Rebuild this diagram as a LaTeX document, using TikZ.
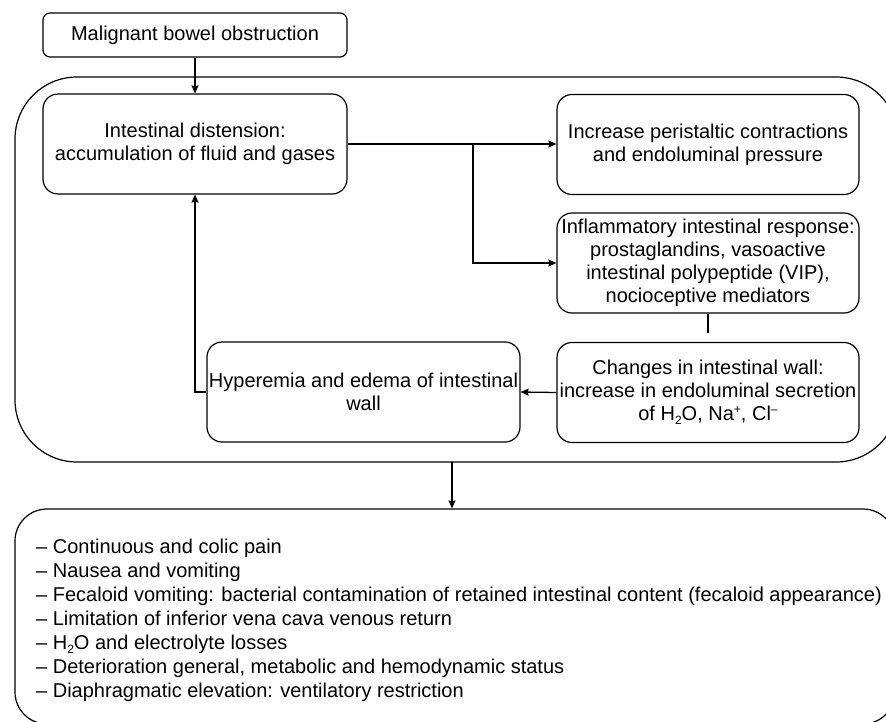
\documentclass[tikz,border=0pt]{standalone}
\usepackage{fontspec}
\setmainfont{Liberation Sans}
\usetikzlibrary{arrows.meta}
\newcommand{\mysub}[1]{\raisebox{-0.4ex}{\fontsize{12}{12}\selectfont #1}}
\newcommand{\mysup}[1]{\raisebox{0.7ex}{\fontsize{12}{12}\selectfont #1}}
\begin{document}
\begin{tikzpicture}[x=1pt,y=-1pt,
  box/.style={draw=black, line width=1.2pt, rounded corners=15pt, inner sep=0pt, align=center,
    minimum width=302pt, minimum height=100pt, font=\fontsize{20}{23}\selectfont},
  arr/.style={line width=1.3pt, -{Stealth[length=8pt,width=7pt,inset=1pt]}},
  conn/.style={line width=1.3pt}]
\useasboundingbox (0,0) rectangle (886,721);
% containers
\node[box, minimum width=883pt, minimum height=385pt, rounded corners=62pt] (big) at (456.5,269.5) {};
\node[box, minimum width=880pt, minimum height=215pt, rounded corners=32pt] (res) at (455,616.5) {};
% boxes
\node[box, minimum width=304pt, minimum height=44pt, rounded corners=7pt] (mal) at (195,35) {Malignant bowel obstruction};
\node[box, minimum width=304pt] (dist) at (195,144) {Intestinal distension:\\accumulation of fluid and gases};
\node[box] (incr) at (708,144.5) {Increase peristaltic contractions\\and endoluminal pressure};
\node[box] (infl) at (708,263) {Inflammatory intestinal response:\\prostaglandins, vasoactive\\intestinal polypeptide (VIP),\\nocioceptive mediators};
\node[box] (chg) at (708,392.5) {Changes in intestinal wall:\\increase in endoluminal secretion\\of H\mysub{2}O, Na\mysup{+}, Cl\mysup{–}};
\node[box, minimum width=313pt] (hyp) at (363.5,392) {Hyperemia and edema of intestinal\\wall};
\node[anchor=north west, inner sep=0pt, align=left, font=\fontsize{20}{24}\selectfont] (list) at (36,538.5)
  {– Continuous and colic pain\\
   – Nausea and vomiting\\
   – Fecaloid vomiting: bacterial contamination of retained intestinal content (fecaloid appearance)\\
   – Limitation of inferior vena cava venous return\\
   – H\mysub{2}O and electrolyte losses\\
   – Deterioration general, metabolic and hemodynamic status\\
   – Diaphragmatic elevation: ventilatory restriction};
% connectors
\draw[arr] (mal) -- (dist);
\draw[arr] (dist.east) -- (dist.east -| incr.west);
\coordinate (br) at (473,144);
\draw[arr] (br) |- (infl.west);
\coordinate (stub) at (708,333);
\draw[conn] (infl.south) -- (stub);
\draw[arr] (chg.west) -- (hyp.east);
\draw[arr] (hyp.west) -| (dist.south);
\coordinate (bs) at (452,462);
\draw[arr] (bs) -- (bs |- res.north);
\end{tikzpicture}
\end{document}
